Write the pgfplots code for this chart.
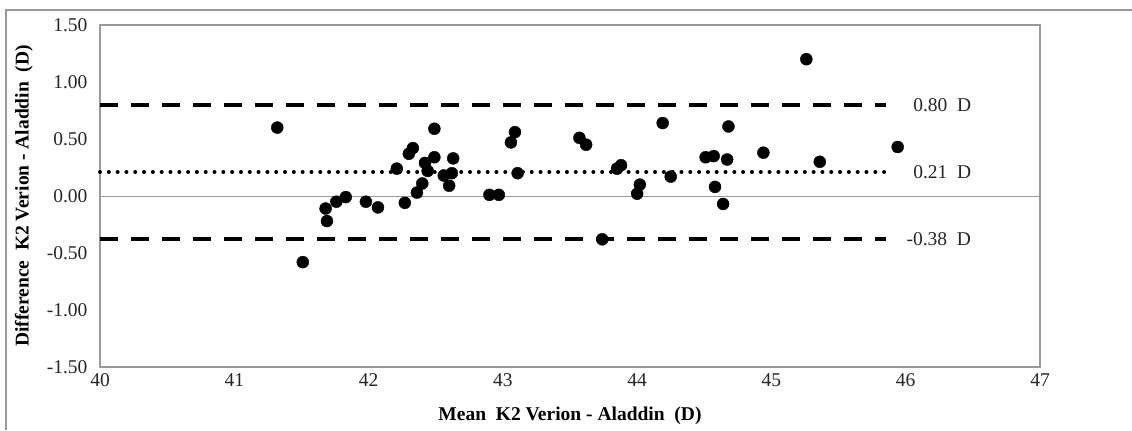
\documentclass[border=0pt]{standalone}
\usepackage{pgfplots}
\pgfplotsset{compat=1.18}
\usepackage{fontspec}
\setmainfont{Liberation Serif}
\newcommand\bigf{\fontsize{19.5bp}{22bp}\selectfont}
\begin{document}
\begin{tikzpicture}[x=1bp,y=1bp,font=\bigf]
\useasboundingbox (0,0) rectangle (1132,430);
\draw[gray!80, line width=1.2bp] (6,0) -- (6,420) -- (1132,420);
\begin{axis}[
  at={(100bp,63bp)}, anchor=south west,
  scale only axis, width=940bp, height=342bp,
  xmin=40, xmax=47, ymin=-1.5, ymax=1.5,
  xtick={40,41,...,47},
  ytick={-1.5,-1,-0.5,0,0.5,1,1.5},
  major tick length=0pt,
  axis line style={gray!80, line width=1.2bp},
  /pgf/number format/assume math mode=true,
  tick label style={font=\bigf},
  label style={font=\bigf},
  yticklabel style={/pgf/number format/fixed,/pgf/number format/precision=2,/pgf/number format/fixed zerofill, xshift=-9bp, text=black!85},
  xticklabel style={yshift=-3bp, text=black!85},
  xlabel={\textbf{Mean\ \ K2 Verion - Aladdin\ \ (D)}},
  ylabel={\textbf{Difference\ \ K2 Verion - Aladdin\ \ (D)}},
  xlabel style={at={(axis description cs:0.5,-0.142)}, anchor=center},
  ylabel style={at={(axis description cs:-0.081,0.5)}, anchor=center, rotate=0},
  clip=false,
]
\addplot[gray!80, line width=1bp] coordinates {(40,0) (47,0)};
\addplot[black, line width=4bp, dash pattern=on 18bp off 13bp] coordinates {(40,0.80) (45.85,0.80)};
\addplot[black, line width=4bp, dash pattern=on 18bp off 13bp] coordinates {(40,-0.38) (45.85,-0.38)};
\addplot[black, line width=4bp, line cap=round, dash pattern=on 0.01bp off 8.8bp] coordinates {(40,0.21) (45.9,0.21)};
\node[anchor=west, text=black!85, font=\bigf] at (axis cs:46.03,0.80) {0.80\ \ D};
\node[anchor=west, text=black!85, font=\bigf] at (axis cs:46.03,0.21) {0.21\ \ D};
\node[anchor=west, text=black!85, font=\bigf] at (axis cs:45.98,-0.38) {-0.38\ \ D};
\addplot[only marks, mark=*, mark size=6bp, mark options={fill=black, draw=black}] table {
x y
41.32 0.60
41.51 -0.58
41.68 -0.11
41.69 -0.22
41.76 -0.05
41.83 -0.01
41.98 -0.05
42.07 -0.10
42.21 0.24
42.27 -0.06
42.30 0.37
42.33 0.42
42.36 0.03
42.40 0.11
42.42 0.29
42.44 0.22
42.49 0.59
42.49 0.34
42.56 0.18
42.60 0.09
42.62 0.20
42.63 0.33
42.90 0.01
42.97 0.01
43.06 0.47
43.09 0.56
43.11 0.20
43.57 0.51
43.62 0.45
43.74 -0.38
43.85 0.24
43.88 0.27
44.00 0.02
44.02 0.10
44.19 0.64
44.25 0.17
44.51 0.34
44.57 0.35
44.58 0.08
44.64 -0.07
44.67 0.32
44.68 0.61
44.94 0.38
45.26 1.20
45.36 0.30
45.94 0.43
};
\end{axis}
\end{tikzpicture}
\end{document}
